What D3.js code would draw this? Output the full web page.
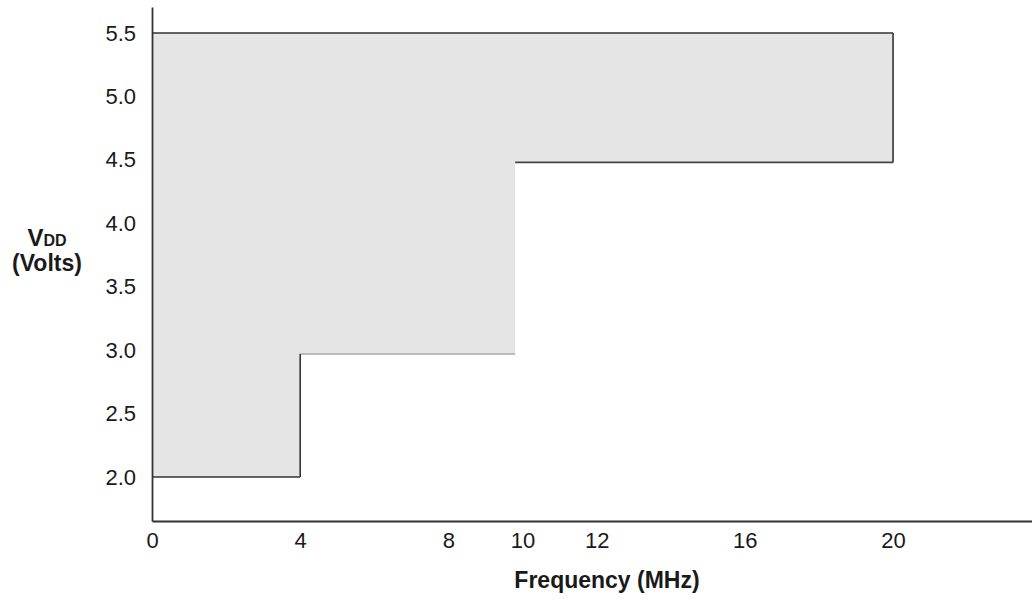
<!DOCTYPE html>
<html>
<head>
<meta charset="utf-8">
<script src="https://d3js.org/d3.v7.min.js"></script>
<style>
  body { margin: 0; background: #fff; }
  svg { display: block; }
  text { font-family: "Liberation Sans", Arial, sans-serif; fill: #1a1a1a; }
</style>
</head>
<body>
<div id="chart"></div>
<script>
// operating region outline (frequency in MHz, VDD in volts)
const outlineFreq = [0, 20, 20, 9.8, 9.8, 4, 4, 0];
const outlineVdd = [5.5, 5.5, 4.48, 4.48, 2.97, 2.97, 2.0, 2.0];
// stroke of each edge, going from point i to point i+1 ("none" = not drawn)
const edgeStroke = ["#333", "#333", "#444", "none", "#aaa", "#333", "#333", "none"];

const xTicks = [0, 4, 8, 10, 12, 16, 20];
const yTicks = [2.0, 2.5, 3.0, 3.5, 4.0, 4.5, 5.0, 5.5];

const width = 1032, height = 601;

const svg = d3.select('#chart')
    .append('svg')
    .attr('width', width)
    .attr('height', height);

const x = d3.scaleLinear().domain([0, 23.75]).range([152, 1032]);
const y = d3.scaleLinear().domain([1.653, 5.705]).range([521, 7]);

const pts = outlineFreq.map((f, i) => [x(f), y(outlineVdd[i])]);

// shaded region
svg.append('path')
    .attr('d', d3.line()(pts) + 'Z')
    .attr('fill', '#e5e5e5')
    .attr('stroke', 'none');

// region border
svg.selectAll('line.edge')
    .data(pts)
    .enter()
    .append('line')
    .attr('class', 'edge')
    .attr('x1', d => d[0])
    .attr('y1', d => d[1])
    .attr('x2', (d, i) => pts[(i + 1) % pts.length][0])
    .attr('y2', (d, i) => pts[(i + 1) % pts.length][1])
    .attr('stroke', (d, i) => edgeStroke[i])
    .attr('stroke-width', 1.6);

// axes
const yAxis = svg.append('g')
    .attr('transform', `translate(${x(0)},0)`)
    .call(d3.axisLeft(y).tickValues(yTicks).tickFormat(d3.format('.1f'))
        .tickSize(0).tickPadding(16));

const xAxis = svg.append('g')
    .attr('transform', `translate(0,${y.range()[0]})`)
    .call(d3.axisBottom(x).tickValues(xTicks).tickFormat(d3.format('d'))
        .tickSize(0).tickPadding(8));

[yAxis, xAxis].forEach(g => {
    g.select('.domain').attr('stroke', '#333').attr('stroke-width', 1.8);
    g.selectAll('text')
        .style('font-family', '"Liberation Sans", Arial, sans-serif')
        .style('font-size', '22px')
        .attr('fill', '#1a1a1a');
});
xAxis.selectAll('text').attr('dy', '0.85em');

// axis titles
svg.append('text')
    .attr('x', 607)
    .attr('y', 588)
    .attr('text-anchor', 'middle')
    .style('font-size', '23px')
    .style('font-weight', 'bold')
    .text('Frequency (MHz)');

const vdd = svg.append('text')
    .attr('x', 47)
    .attr('y', 246)
    .attr('text-anchor', 'middle')
    .style('font-weight', 'bold');
vdd.append('tspan').style('font-size', '24px').text('V');
vdd.append('tspan').style('font-size', '16px').text('DD');

svg.append('text')
    .attr('x', 47)
    .attr('y', 271)
    .attr('text-anchor', 'middle')
    .style('font-size', '23px')
    .style('font-weight', 'bold')
    .text('(Volts)');
</script>
</body>
</html>
